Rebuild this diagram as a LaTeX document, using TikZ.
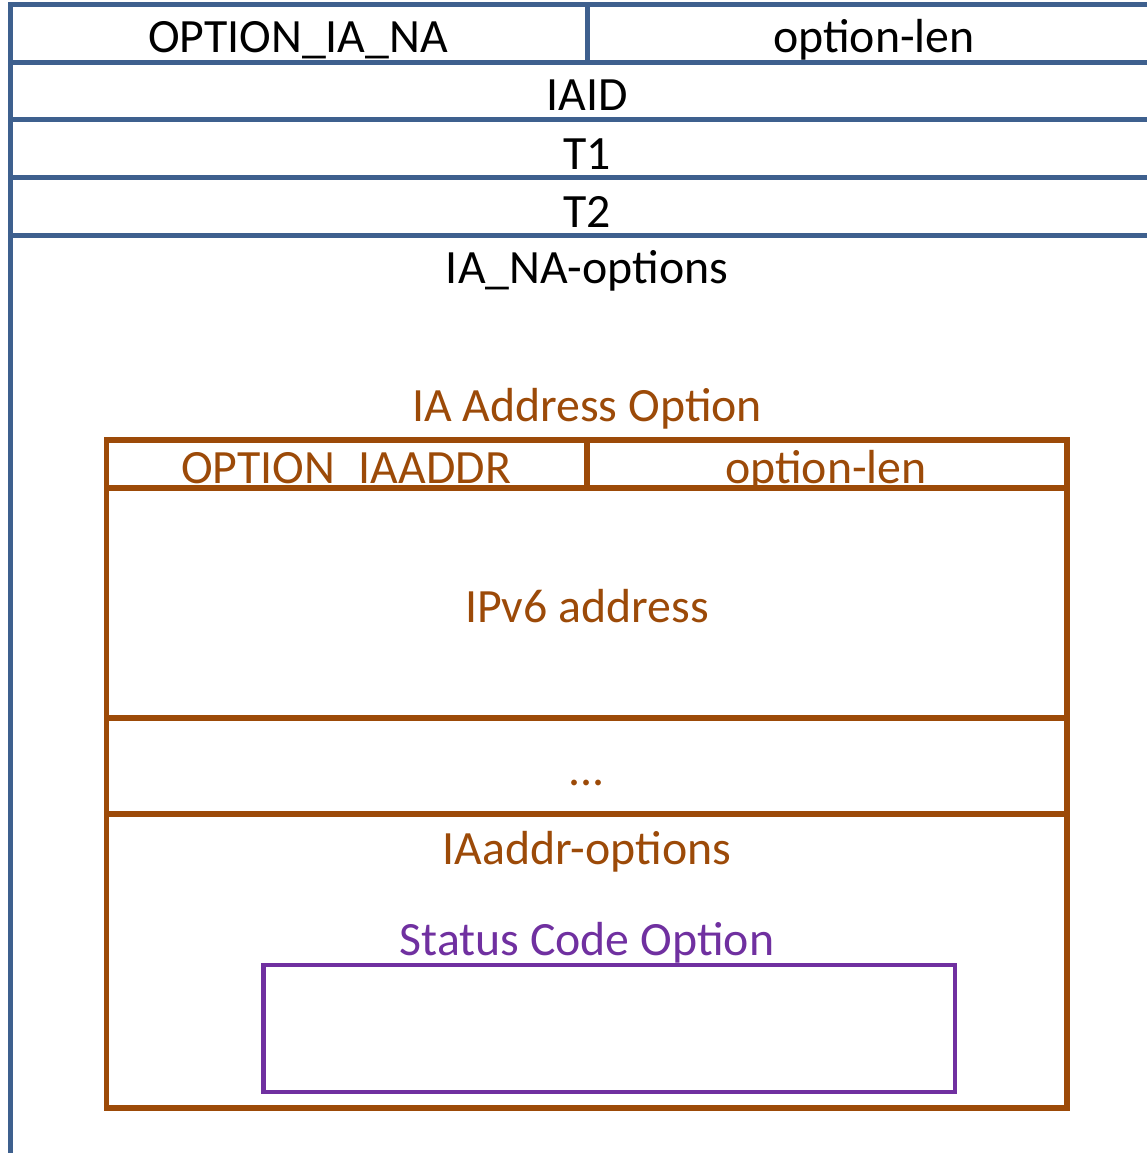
\documentclass[tikz,border=0pt]{standalone}
\usepackage{fontspec}
\setmainfont{Carlito}
\definecolor{bluel}{RGB}{62,96,142}
\definecolor{brownl}{RGB}{156,74,8}
\definecolor{purplel}{RGB}{112,48,160}
\begin{document}
\begin{tikzpicture}[x=1pt,y=-1pt,
  every node/.style={inner sep=0pt,anchor=base,font=\fontsize{47.8pt}{56pt}\selectfont},
  bl/.style={draw=bluel,line width=5pt},
  br/.style={draw=brownl,line width=5.5pt},
  pu/.style={draw=purplel,line width=4.5pt},
  tb/.style={text=black},
  tbr/.style={text=brownl},
  tpu/.style={text=purplel}]
\useasboundingbox (0,0) rectangle (1147,1153);
% blue texts
\node[tb] (optna) at (298,53) {OPTION\_IA\_NA};
\node[tb] (olen1) at (874,53) {option-len};
\node[tb] (iaid) at (587,111) {IAID};
\node[tb] (t1) at (587,169) {T1};
\node[tb] (t2) at (587,227) {T2};
\node[tb] (naopt) at (587,283) {IA\_NA-options};
% brown texts
\node[tbr] (iaaddr) at (587,421) {IA Address Option};
\node[tbr] (optia) at (346,483) {OPTION\_IAADDR};
\node[tbr] (olen2) at (826,483) {option-len};
\node[tbr] (ipv6) at (587,622) {IPv6 address};
\node[tbr] (dots) at (587,785) {...};
\node[tbr] (iaopts) at (587,864) {IAaddr-options};
% purple
\node[tpu] (status) at (587,955) {Status Code Option};
% blue frame
\draw[bl] (1150,5) -- (10.5,5) -- (10.5,1156);
\draw[bl] (10.5,62.5) -- (1150,62.5);
\draw[bl] (10.5,120) -- (1150,120);
\draw[bl] (10.5,177.5) -- (1150,177.5);
\draw[bl] (10.5,235) -- (1150,235);
\draw[bl] (587,5) -- (587,62.5);
% brown box
\draw[br] (106.5,440) rectangle (1067,1108);
\draw[br] (106.5,488) -- (1067,488);
\draw[br] (106.5,718) -- (1067,718);
\draw[br] (106.5,814) -- (1067,814);
\draw[br] (587,440) -- (587,488);
% purple box
\draw[pu] (263.5,965) rectangle (955,1092);
\end{tikzpicture}
\end{document}
